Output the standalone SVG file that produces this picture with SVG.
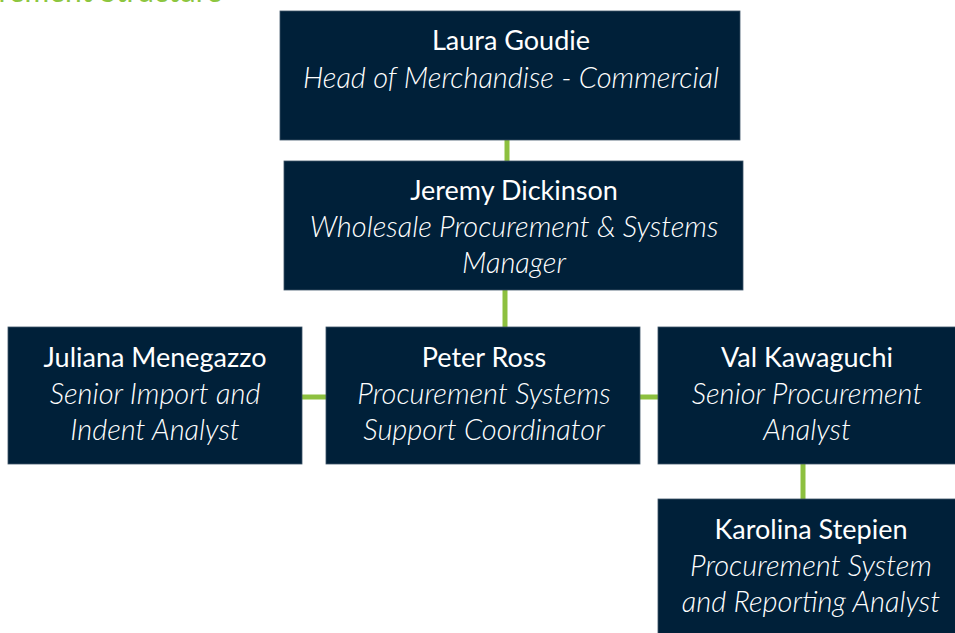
<svg xmlns="http://www.w3.org/2000/svg" width="955" height="633" viewBox="0 0 955 633">
<style>
.box{fill:#002039;stroke:#3c5366;stroke-width:0.8}
.name{font-family:Lato,"Liberation Sans",sans-serif;font-size:27px;fill:#ffffff;text-anchor:middle}
.role{font-family:Lato,"Liberation Sans",sans-serif;font-size:29px;font-style:italic;font-weight:300;fill:#ffffff;text-anchor:middle}
.conn{stroke:#8dc03f;stroke-width:5;fill:none}
.title{font-family:Lato,"Liberation Sans",sans-serif;font-size:30px;fill:#8dc63f;text-anchor:end}
</style>
<rect width="955" height="633" fill="#ffffff"/>
<text class="title" x="222" y="2">Procurement Structure</text>
<g id="connectors">
<line class="conn" x1="507" y1="140" x2="507" y2="161"/>
<line class="conn" x1="505" y1="290" x2="505" y2="327"/>
<line class="conn" x1="302" y1="397" x2="326" y2="397"/>
<line class="conn" x1="640" y1="397" x2="658" y2="397"/>
<line class="conn" x1="803" y1="464" x2="803" y2="499"/>
</g>
<g id="laura">
<rect class="box" x="280" y="11" width="460" height="129"/>
<text class="name" x="511" y="50">Laura Goudie</text>
<text class="role" x="511" y="88">Head of Merchandise - Commercial</text>
</g>
<g id="jeremy">
<rect class="box" x="284" y="161" width="459" height="129"/>
<text class="name" x="514" y="200">Jeremy Dickinson</text>
<text class="role" x="514" y="237">Wholesale Procurement &amp; Systems</text>
<text class="role" x="514" y="273">Manager</text>
</g>
<g id="juliana">
<rect class="box" x="8" y="327" width="294" height="137"/>
<text class="name" x="155" y="367">Juliana Menegazzo</text>
<text class="role" x="155" y="404">Senior Import and</text>
<text class="role" x="155" y="440">Indent Analyst</text>
</g>
<g id="peter">
<rect class="box" x="326" y="327" width="314" height="137"/>
<text class="name" x="484" y="367">Peter Ross</text>
<text class="role" x="484" y="404">Procurement Systems</text>
<text class="role" x="484" y="440">Support Coordinator</text>
</g>
<g id="val">
<rect class="box" x="658" y="327" width="300" height="137"/>
<text class="name" x="807" y="367">Val Kawaguchi</text>
<text class="role" x="807" y="404">Senior Procurement</text>
<text class="role" x="807" y="440">Analyst</text>
</g>
<g id="karolina">
<rect class="box" x="658" y="499" width="300" height="140"/>
<text class="name" x="811" y="539">Karolina Stepien</text>
<text class="role" x="811" y="576">Procurement System</text>
<text class="role" x="811" y="612">and Reporting Analyst</text>
</g>
</svg>
